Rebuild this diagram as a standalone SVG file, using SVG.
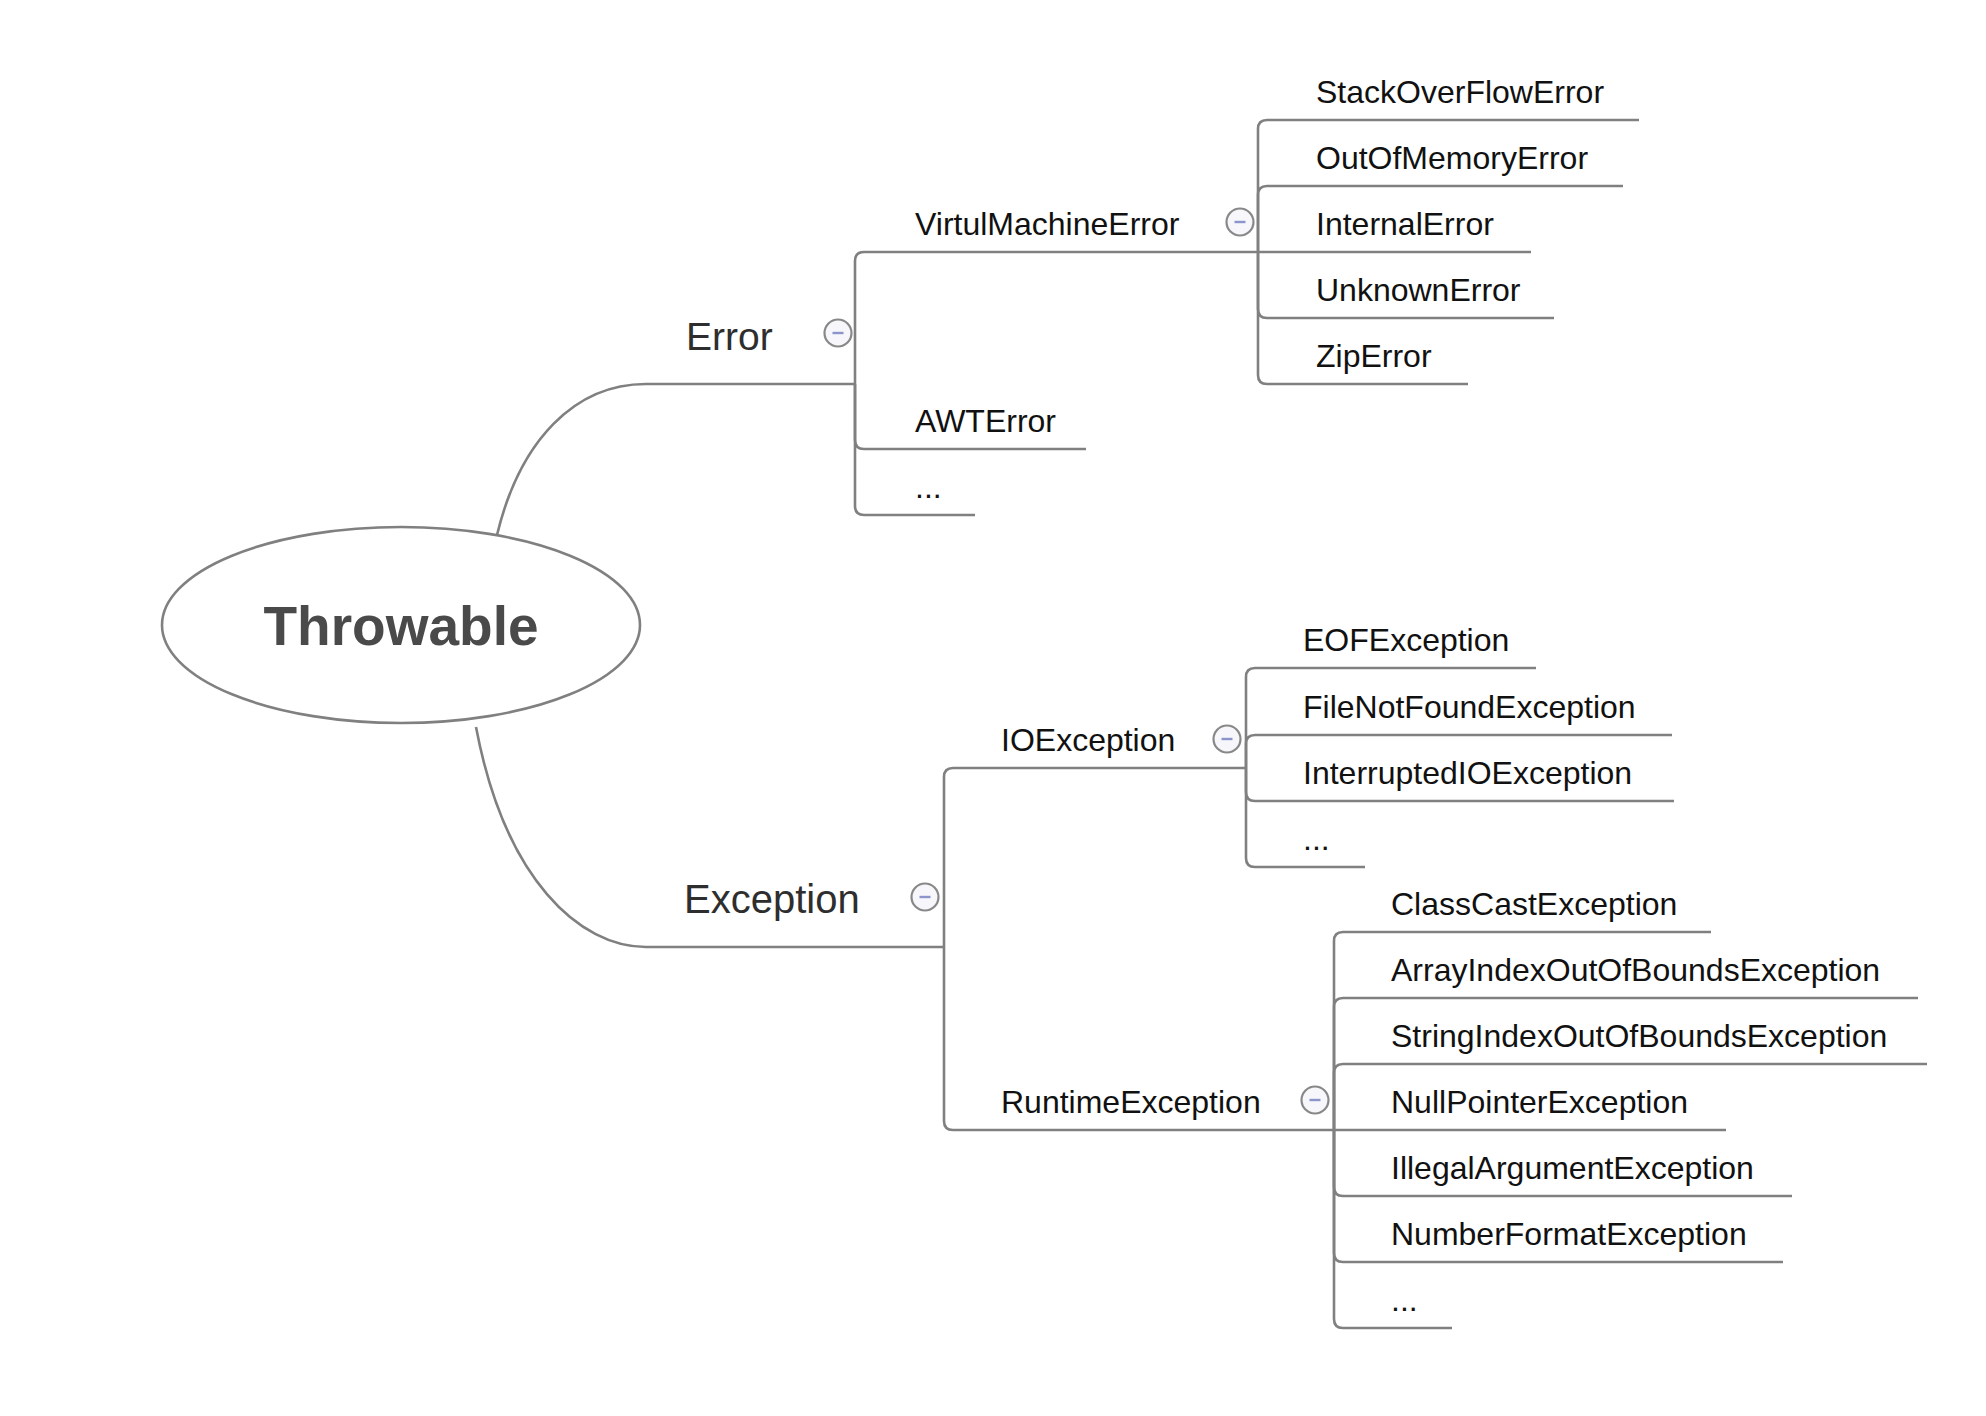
<svg xmlns="http://www.w3.org/2000/svg" width="1986" height="1416" viewBox="0 0 1986 1416">
<style>
.ln{fill:none;stroke:#808080;stroke-width:2.6;stroke-linejoin:round}
.t1{font-family:"Liberation Sans",Arial,sans-serif;font-size:39px;fill:#2e2e2e}
.t2{font-family:"Liberation Sans",Arial,sans-serif;font-size:32px;fill:#111}
.root{font-family:"Liberation Sans",Arial,sans-serif;font-size:55px;font-weight:bold;fill:#4a4a4a}
.cb{fill:#f7f7fb;stroke:#888;stroke-width:2.2}
.cm{stroke:#8c94cc;stroke-width:2.4}
</style>
<defs>
<g id="collapse"><circle class="cb" r="13.5"/><line class="cm" x1="-5.5" y1="0" x2="5.5" y2="0"/></g>
</defs>
<rect width="1986" height="1416" fill="#fff"/>
<g id="connectors">
<path class="ln" d="M497,535 C520,440 575,384 646,384 L855,384"/>
<path class="ln" d="M476,727 C505,880 580,947 646,947 L944,947"/>
<path class="ln" d="M855,384 L855,261 Q855,252 864,252 L1258,252"/>
<path class="ln" d="M855,384 L855,440 Q855,449 864,449 L1086,449"/>
<path class="ln" d="M855,384 L855,506 Q855,515 864,515 L975,515"/>
<path class="ln" d="M1258,252 L1258,129 Q1258,120 1267,120 L1639,120"/>
<path class="ln" d="M1258,252 L1258,195 Q1258,186 1267,186 L1623,186"/>
<path class="ln" d="M1258,252 L1531,252"/>
<path class="ln" d="M1258,252 L1258,309 Q1258,318 1267,318 L1554,318"/>
<path class="ln" d="M1258,252 L1258,375 Q1258,384 1267,384 L1468,384"/>
<path class="ln" d="M944,947 L944,777 Q944,768 953,768 L1246,768"/>
<path class="ln" d="M944,947 L944,1121 Q944,1130 953,1130 L1334,1130"/>
<path class="ln" d="M1246,768 L1246,677 Q1246,668 1255,668 L1536,668"/>
<path class="ln" d="M1246,768 L1246,744 Q1246,735 1255,735 L1672,735"/>
<path class="ln" d="M1246,768 L1246,792 Q1246,801 1255,801 L1674,801"/>
<path class="ln" d="M1246,768 L1246,858 Q1246,867 1255,867 L1365,867"/>
<path class="ln" d="M1334,1130 L1334,941 Q1334,932 1343,932 L1711,932"/>
<path class="ln" d="M1334,1130 L1334,1007 Q1334,998 1343,998 L1918,998"/>
<path class="ln" d="M1334,1130 L1334,1073 Q1334,1064 1343,1064 L1927,1064"/>
<path class="ln" d="M1334,1130 L1726,1130"/>
<path class="ln" d="M1334,1130 L1334,1187 Q1334,1196 1343,1196 L1792,1196"/>
<path class="ln" d="M1334,1130 L1334,1253 Q1334,1262 1343,1262 L1783,1262"/>
<path class="ln" d="M1334,1130 L1334,1319 Q1334,1328 1343,1328 L1452,1328"/>
</g>
<g id="throwable">
<ellipse cx="401" cy="625" rx="239" ry="98" fill="#fff" stroke="#808080" stroke-width="2.6"/>
<text class="root" x="401" y="645" text-anchor="middle">Throwable</text>
</g>
<g id="error"><text class="t1" x="686" y="350">Error</text><use href="#collapse" x="838" y="333"/></g>
<g id="exception"><text class="t1" x="684" y="913" style="font-size:40px">Exception</text><use href="#collapse" x="925" y="897"/></g>
<g id="vme"><text class="t2" x="915" y="235">VirtulMachineError</text><use href="#collapse" x="1240" y="222"/></g>
<g id="awterror"><text class="t2" x="915" y="432">AWTError</text></g>
<g id="error-more"><text class="t2" x="915" y="498">...</text></g>
<g id="sofe"><text class="t2" x="1316" y="103">StackOverFlowError</text></g>
<g id="oome"><text class="t2" x="1316" y="169">OutOfMemoryError</text></g>
<g id="internal"><text class="t2" x="1316" y="235">InternalError</text></g>
<g id="unknown"><text class="t2" x="1316" y="301">UnknownError</text></g>
<g id="zip"><text class="t2" x="1316" y="367">ZipError</text></g>
<g id="ioexception"><text class="t2" x="1001" y="751">IOException</text><use href="#collapse" x="1227" y="739"/></g>
<g id="runtime"><text class="t2" x="1001" y="1113">RuntimeException</text><use href="#collapse" x="1315" y="1100"/></g>
<g id="eof"><text class="t2" x="1303" y="651">EOFException</text></g>
<g id="fnf"><text class="t2" x="1303" y="718">FileNotFoundException</text></g>
<g id="iio"><text class="t2" x="1303" y="784">InterruptedIOException</text></g>
<g id="io-more"><text class="t2" x="1303" y="850">...</text></g>
<g id="cce"><text class="t2" x="1391" y="915">ClassCastException</text></g>
<g id="aioobe"><text class="t2" x="1391" y="981">ArrayIndexOutOfBoundsException</text></g>
<g id="sioobe"><text class="t2" x="1391" y="1047">StringIndexOutOfBoundsException</text></g>
<g id="npe"><text class="t2" x="1391" y="1113">NullPointerException</text></g>
<g id="iae"><text class="t2" x="1391" y="1179">IllegalArgumentException</text></g>
<g id="nfe"><text class="t2" x="1391" y="1245">NumberFormatException</text></g>
<g id="rt-more"><text class="t2" x="1391" y="1311">...</text></g>
</svg>
